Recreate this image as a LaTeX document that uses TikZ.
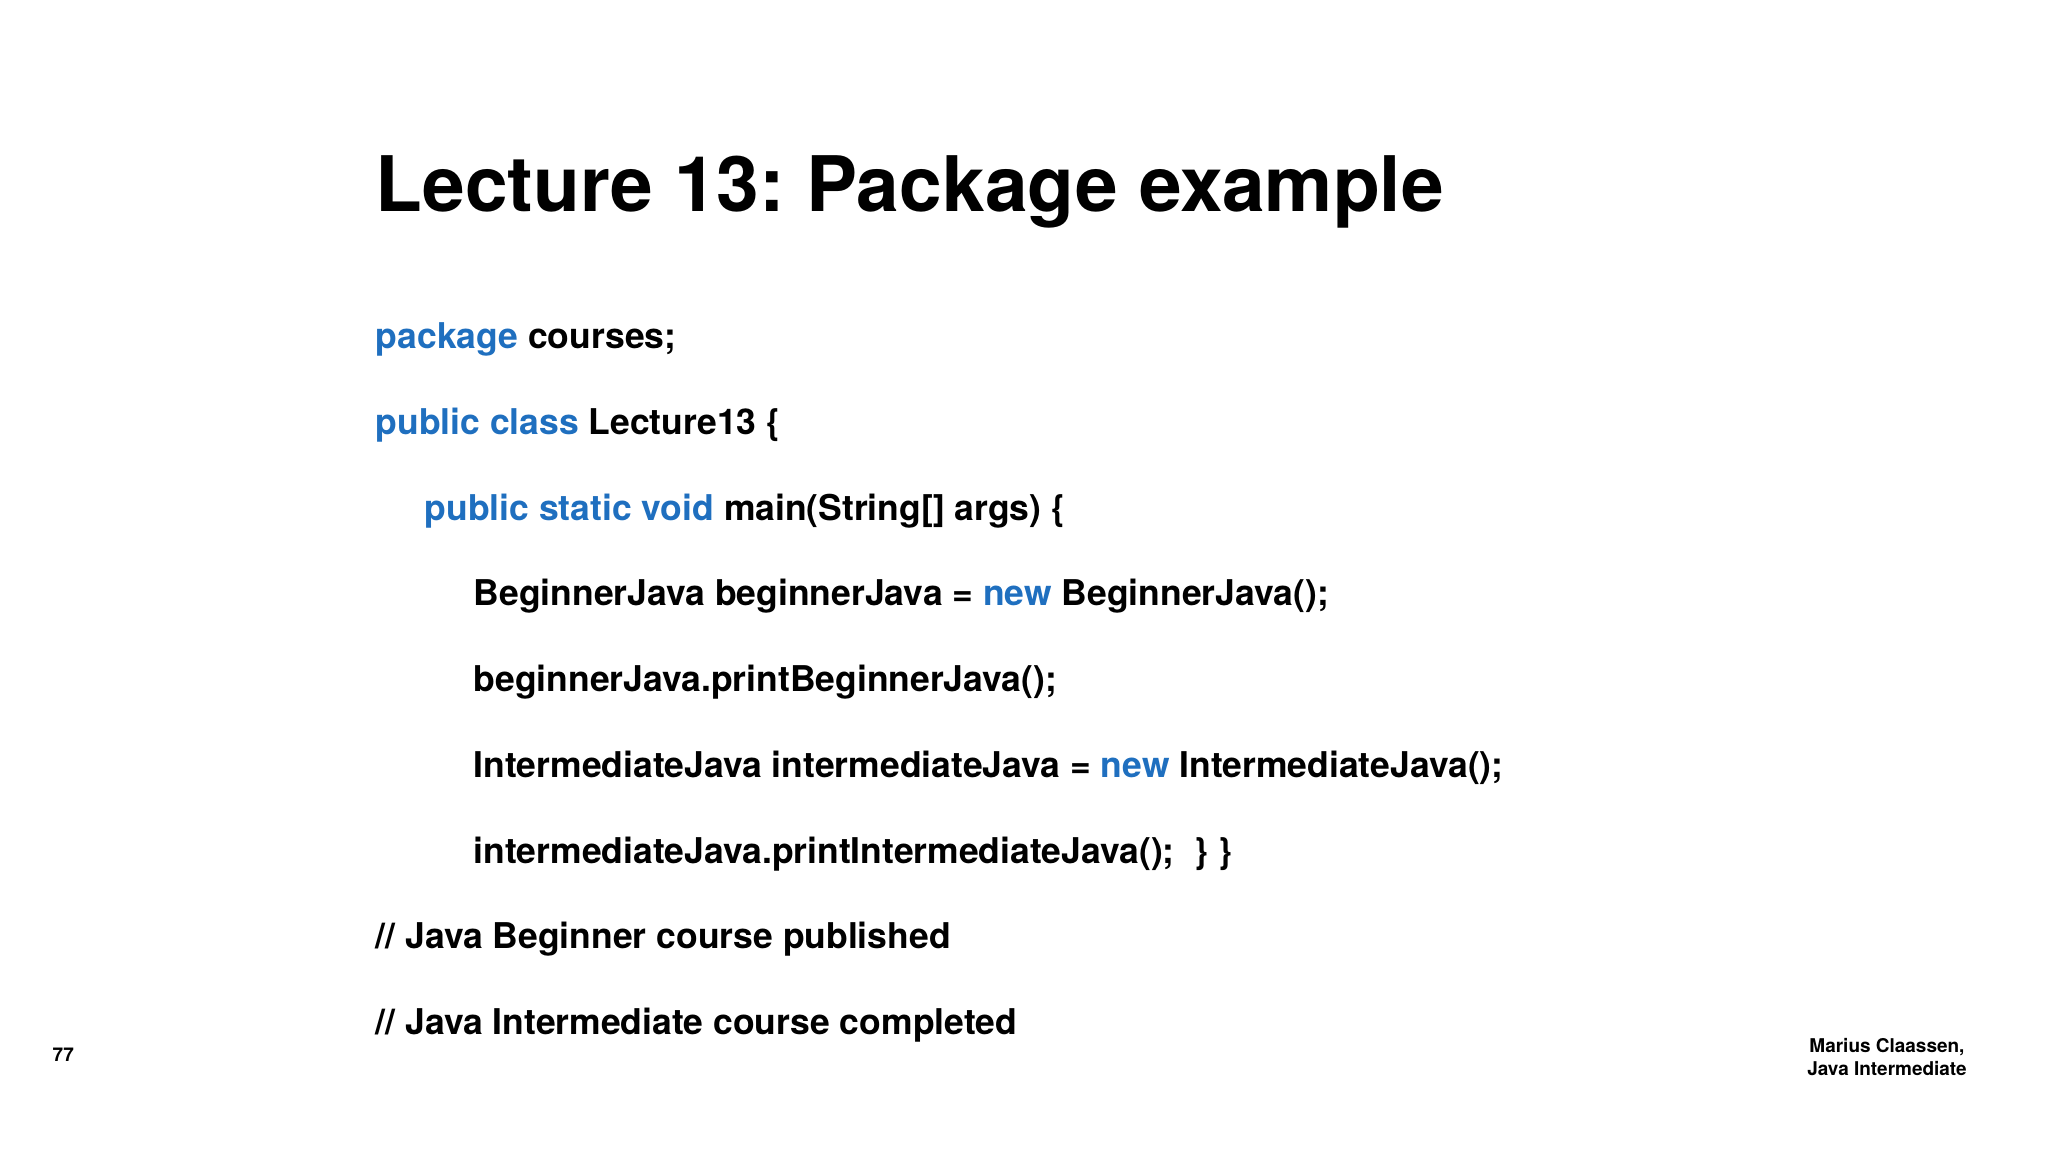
\documentclass[tikz,border=0pt]{standalone}
\usepackage{fontspec}
\setmainfont{TeX Gyre Heros}
\usetikzlibrary{positioning}
\definecolor{kwblue}{HTML}{1F6FBF}
\tikzstyle{title} = [anchor=base west, inner sep=0pt, font=\fontsize{21.8}{26}\selectfont\bfseries]
\tikzstyle{codeline} = [anchor=base west, inner sep=0pt, font=\fontsize{10.1}{12}\selectfont\bfseries]
\tikzstyle{footer} = [inner sep=0pt, font=\fontsize{5.4}{6.6}\selectfont\bfseries]
\newcommand{\kw}[1]{\textcolor{kwblue}{#1}}
\frenchspacing

\begin{document}
\begin{tikzpicture}
    \useasboundingbox (0,0) rectangle (20.48,11.52);

    \node (title) [title] at (3.75,9.40) {Lecture 13: Package example};

    \node (pkg) [codeline] at (3.75,8.03) {\kw{package} courses;};
    \node (cls) [codeline] at (3.75,7.17) {\kw{public class} Lecture13 \{};
    \node (main) [codeline] at (4.24,6.31) {\kw{public static void} main(String[] args) \{};
    \node (newb) [codeline] at (4.73,5.46) {BeginnerJava beginnerJava = \kw{new} BeginnerJava();};
    \node (printb) [codeline] at (4.73,4.60) {beginnerJava.printBeginnerJava();};
    \node (newi) [codeline] at (4.73,3.74) {IntermediateJava intermediateJava = \kw{new} IntermediateJava();};
    \node (printi) [codeline] at (4.73,2.88) {intermediateJava.printIntermediateJava();~ \} \}};
    \node (cmta) [codeline] at (3.75,2.03) {// Java Beginner course published};
    \node (cmtb) [codeline] at (3.75,1.17) {// Java Intermediate course completed};

    \node (pagenr) [footer, anchor=base west] at (0.52,0.90) {77};
    \node (author) [footer, align=center, anchor=base] at (18.87,0.76) {Marius Claassen,\\Java Intermediate};

\end{tikzpicture}
\end{document}
